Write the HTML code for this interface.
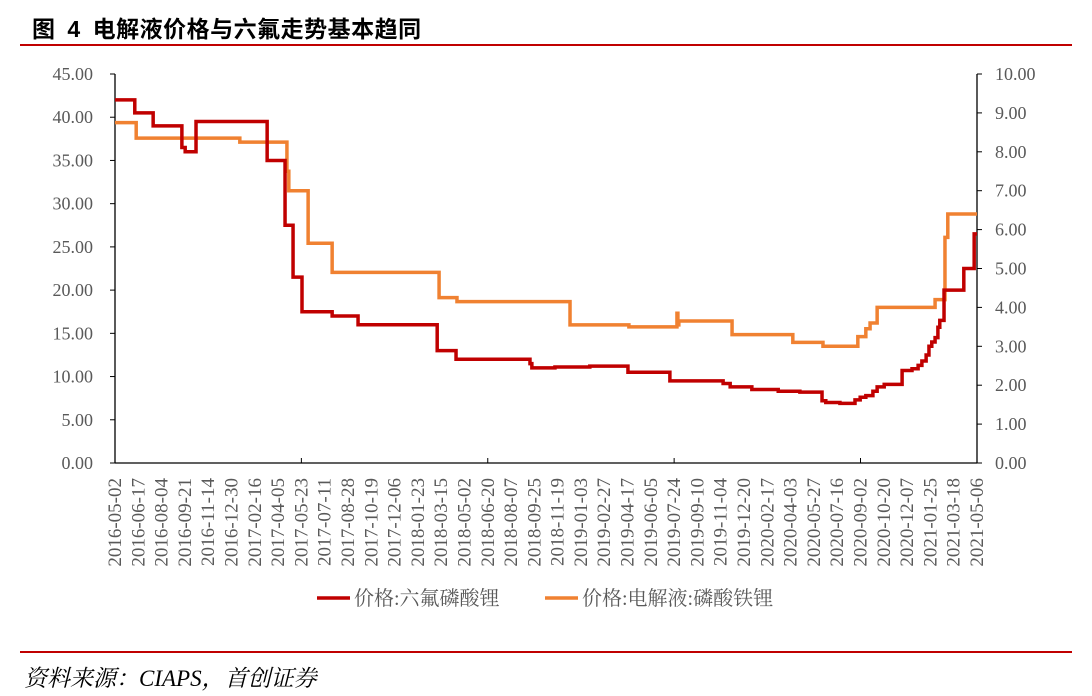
<!DOCTYPE html>
<html><head><meta charset="utf-8"><style>
body{margin:0;background:#fff;width:1092px;height:696px;overflow:hidden;font-family:"Liberation Serif","Noto Serif CJK SC",serif}
</style></head><body>
<div style="position:absolute;left:32px;top:10px;font-size:23px;font-weight:bold;font-family:'Liberation Sans','Noto Sans CJK SC',sans-serif;word-spacing:5px;letter-spacing:0.5px">图 4 电解液价格与六氟走势基本趋同</div>
<div style="position:absolute;left:20px;top:44px;width:1052px;height:2px;background:#c00000"></div>
<div style="position:absolute;left:20px;top:651px;width:1052px;height:2px;background:#c00000"></div>
<div style="position:absolute;left:24px;top:660px;font-size:23px;font-style:italic;">资料来源：CIAPS，首创证券</div>
<svg id="chart" width="1092" height="696" style="position:absolute;left:0;top:0"></svg>
<script>
const xLabels=["2016-05-02","2016-06-17","2016-08-04","2016-09-21","2016-11-14","2016-12-30","2017-02-16","2017-04-05","2017-05-23","2017-07-11","2017-08-28","2017-10-19","2017-12-06","2018-01-23","2018-03-15","2018-05-02","2018-06-20","2018-08-07","2018-09-25","2018-11-19","2019-01-03","2019-02-27","2019-04-17","2019-06-05","2019-07-24","2019-09-10","2019-11-04","2019-12-20","2020-02-17","2020-04-03","2020-05-27","2020-07-16","2020-09-02","2020-10-20","2020-12-07","2021-01-25","2021-03-18","2021-05-06"];
const leftTicks=[0,5,10,15,20,25,30,35,40,45];
const rightTicks=[0,1,2,3,4,5,6,7,8,9,10];
const totalDays=1830;
// 价格:六氟磷酸锂 (left axis) step changes: days since 2016-05-02
const lifpDays=[0,42,81,142,149,172,323,361,378,397,461,516,684,724,881,885,934,1008,1089,1178,1291,1306,1352,1408,1454,1501,1509,1539,1571,1582,1594,1609,1618,1633,1671,1692,1705,1713,1722,1728,1734,1741,1747,1751,1760,1802,1824];
const lifpVals=[42,40.5,39,36.5,36,39.5,35,27.5,21.5,17.5,17,16,13,12,11.5,11,11.1,11.2,10.5,9.5,9.2,8.8,8.5,8.3,8.2,7.2,7.0,6.9,7.3,7.6,7.8,8.3,8.8,9.1,10.7,10.9,11.3,11.8,12.5,13.5,14,14.5,15.7,16.5,20,22.5,26.5];
// 价格:电解液:磷酸铁锂 (right axis)
const elecDays=[0,45,265,365,369,410,461,688,726,966,1091,1193,1195,1197,1310,1439,1503,1577,1594,1603,1618,1741,1762,1768];
const elecVals=[8.75,8.35,8.25,7.5,7.0,5.65,4.9,4.25,4.15,3.55,3.5,3.85,3.55,3.65,3.3,3.1,3.0,3.25,3.45,3.6,4.0,4.2,5.8,6.4];

const svg=document.getElementById('chart');const NS='http://www.w3.org/2000/svg';
const L=115,R=977,T=74,B=463;
const xs=d=>L+(R-L)*d/totalDays;
const yl=v=>B-(B-T)*v/45;
const yr=v=>B-(B-T)*v/10;
function mk(tag,attrs,parent){const e=document.createElementNS(NS,tag);for(const k in attrs)e.setAttribute(k,attrs[k]);(parent||svg).appendChild(e);return e;}
let a=mk('line',{x1:L,y1:T,x2:L,y2:B,stroke:'#000','stroke-width':1.3});


a=mk('line',{x1:R,y1:T,x2:R,y2:B,stroke:'#000','stroke-width':1.3});


a=mk('line',{x1:L,y1:B,x2:R,y2:B,stroke:'#000','stroke-width':1.3});


leftTicks.forEach(v=>{const y=yl(v);
 mk('line',{x1:L-5,y1:y,x2:L,y2:y,stroke:'#000'});
 const t=mk('text',{x:93,y:y+6,'text-anchor':'end','font-size':18,fill:'#595959'});t.textContent=v.toFixed(2);
 
 });
rightTicks.forEach(v=>{const y=yr(v);
 mk('line',{x1:R,y1:y,x2:R+5,y2:y,stroke:'#000'});
 const t=mk('text',{x:R+18,y:y+6,'font-size':18,fill:'#595959'});t.textContent=v.toFixed(2);
 
 });
xLabels.forEach((s,i)=>{const x=L+(R-L)*i/(xLabels.length-1);
 if(i%8===0||i===xLabels.length-1) mk('line',{x1:x,y1:B,x2:x,y2:B-5,stroke:'#000'});
 const t=mk('text',{x:0,y:0,'text-anchor':'end','font-size':19,fill:'#595959',transform:`translate(${x+6},${B+15}) rotate(-90)`});t.textContent=s;
 
 });
function stepPath(days,vals,yf){let d=`M${xs(days[0])},${yf(vals[0])}`;
 for(let i=1;i<days.length;i++){d+=` H${xs(days[i])} V${yf(vals[i])}`;}
 d+=` H${xs(totalDays)}`;return d;}
let p=mk('path',{d:stepPath(elecDays,elecVals,yr),fill:'none',stroke:'#f08131','stroke-width':3.5});


p=mk('path',{d:stepPath(lifpDays,lifpVals,yl),fill:'none',stroke:'#c00000','stroke-width':3.5});


let g=mk('g',{});


mk('line',{x1:317,y1:598,x2:350,y2:598,stroke:'#c00000','stroke-width':3.5},g);
let t=mk('text',{x:354,y:605,'font-size':20,fill:'#595959'},g);t.textContent='价格:六氟磷酸锂';
g=mk('g',{});


mk('line',{x1:545,y1:598,x2:578,y2:598,stroke:'#f08131','stroke-width':3.5},g);
t=mk('text',{x:582,y:605,'font-size':20,fill:'#595959'},g);t.textContent='价格:电解液:磷酸铁锂';
</script>
</body></html>
